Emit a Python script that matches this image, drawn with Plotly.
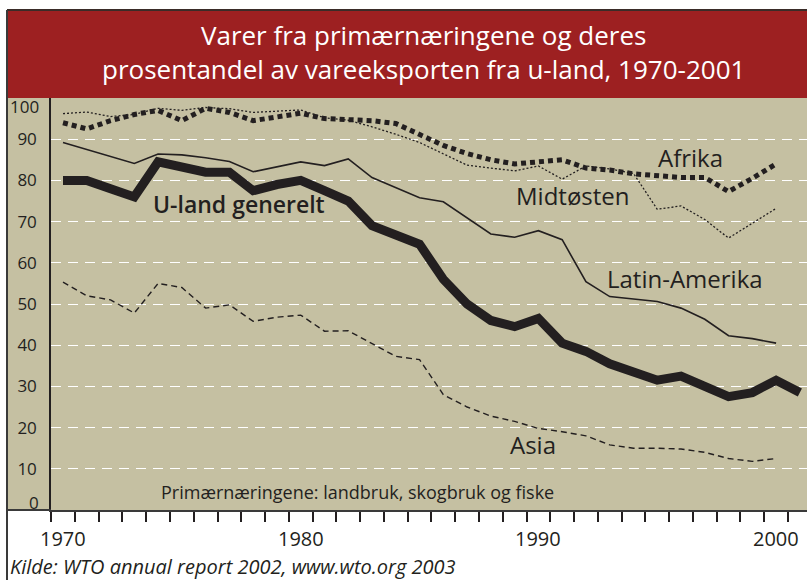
import plotly.graph_objects as go

years = list(range(1970, 2001))
years_uland = list(range(1970, 2002))

u_land = [80, 80, 78, 76, 84.5, 83, 82, 82, 77.5, 79, 80, 77.5, 75, 69, 66.5, 64.5,
          56, 50, 46, 44.5, 46.5, 40.5, 38.5, 35.5, 33.5, 31.5, 32.5, 30, 27.5, 28.5, 31.5, 28.5]
latin_amerika = [89.2, 87.5, 85.8, 84.1, 86.4, 86.2, 85.5, 84.6, 82.1, 83.3, 84.5, 83.6, 85.2, 80.7,
                 78.3, 75.8, 74.8, 70.8, 67, 66.2, 67.8, 65.6, 55.4, 51.8, 51.2, 50.6, 49, 46.3, 42.3, 41.6, 40.5]
afrika = [94, 92.5, 94.5, 96, 97, 94.5, 97.5, 96.5, 94.5, 95.3, 96.3, 95, 94.8, 94.5, 93.8, 91,
          88.5, 86.5, 85, 84, 84.5, 85, 83, 82.5, 81.6, 81, 80.7, 80.7, 77.3, 80.5, 84]
midtosten = [96.2, 96.6, 95.5, 96, 97.5, 97, 97.7, 97.4, 96.5, 96.8, 97.1, 95.2, 94.6, 93, 91.2, 89.2,
             86.5, 83.7, 83, 82.3, 83.5, 80.3, 83.5, 82.8, 81.7, 73, 73.8, 70.5, 66, 69.6, 73.2]
asia = [55.3, 52, 51, 47.8, 55, 54, 49, 49.8, 45.8, 46.8, 47.3, 43.4, 43.5, 40.5, 37.3, 36.5,
        28, 25, 22.8, 21.5, 19.8, 19, 18, 15.8, 15, 15, 14.8, 14, 12.5, 11.8, 12.5]

y_ticks = [10, 20, 30, 40, 50, 60, 70, 80, 90]
x_labels = [1970, 1980, 1990, 2000]
title_lines = ["Varer fra primærnæringene og deres",
               "prosentandel av vareeksporten fra u-land, 1970-2001"]

INK = "#231f20"
TAN = "#c5c0a2"
RED = "#9d2021"
FONT = "Open Sans"

fig = go.Figure()
fig.add_trace(go.Scatter(x=years, y=midtosten, mode="lines",
                         line=dict(color=INK, width=1.3, dash="2px,2px"), name="Midtøsten"))
fig.add_trace(go.Scatter(x=years, y=afrika, mode="lines",
                         line=dict(color=INK, width=5, dash="5px,4px"), name="Afrika"))
fig.add_trace(go.Scatter(x=years, y=latin_amerika, mode="lines",
                         line=dict(color=INK, width=1.6), name="Latin-Amerika"))
fig.add_trace(go.Scatter(x=years, y=asia, mode="lines",
                         line=dict(color=INK, width=1.4, dash="6px,4px"), name="Asia"))
fig.add_trace(go.Scatter(x=years_uland, y=u_land, mode="lines",
                         line=dict(color=INK, width=9), name="U-land generelt"))

# pixel helpers for layout decorations (plot area: x 51..807, y 98..510)
L, R, T, B = 51, 807, 98, 510
def px(xp):
    return (xp - L) / (R - L)
def py(yp):
    return (B - yp) / (B - T)

shapes = [
    dict(type="rect", xref="paper", yref="paper", x0=px(7), x1=1.01, y0=0, y1=1,
         fillcolor=TAN, line=dict(width=0), layer="below"),
    dict(type="rect", xref="paper", yref="paper", x0=px(7), x1=1.01, y0=1, y1=py(10),
         fillcolor=RED, line=dict(width=0), layer="below"),
    dict(type="line", xref="paper", yref="paper", x0=px(7), x1=1.01, y0=py(10), y1=py(10),
         line=dict(color="#3a2c28", width=2)),
    dict(type="line", xref="paper", yref="paper", x0=px(7), x1=px(7), y0=py(580), y1=py(10),
         line=dict(color="#3a3a3a", width=2)),
]

annotations = [
    dict(xref="paper", yref="paper", x=px(423), y=py(52), text="<br>".join(title_lines),
         showarrow=False, font=dict(family=FONT, size=26, color="white"), align="center",
         xanchor="center", yanchor="middle"),
    dict(x=1977.4, y=74.2, text="U-land generelt", showarrow=False,
         font=dict(family=FONT, size=23, color=INK, weight=600), xanchor="center", yanchor="middle"),
    dict(x=1996.38, y=85.6, text="Afrika", showarrow=False,
         font=dict(family=FONT, size=24, color=INK), xanchor="center", yanchor="middle"),
    dict(x=1991.46, y=76.4, text="Midtøsten", showarrow=False,
         font=dict(family=FONT, size=24, color=INK), xanchor="center", yanchor="middle"),
    dict(x=1996.17, y=56.2, text="Latin-Amerika", showarrow=False,
         font=dict(family=FONT, size=24, color=INK), xanchor="center", yanchor="middle"),
    dict(x=1989.77, y=15.8, text="Asia", showarrow=False,
         font=dict(family=FONT, size=24, color=INK), xanchor="center", yanchor="middle"),
    dict(x=1982.39, y=4.3, text="Primærnæringene: landbruk, skogbruk og fiske", showarrow=False,
         font=dict(family=FONT, size=18, color=INK), xanchor="center", yanchor="middle"),
    dict(xref="paper", yref="paper", x=px(8), y=py(566),
         text="<i>Kilde: WTO annual report 2002, www.wto.org 2003</i>", showarrow=False,
         font=dict(family=FONT, size=20, color=INK), xanchor="left", yanchor="middle"),
    dict(xref="paper", yref="paper", x=px(41), y=py(106), text="100", showarrow=False,
         font=dict(family=FONT, size=17, color=INK), xanchor="right", yanchor="middle"),
    dict(xref="paper", yref="paper", x=px(41), y=py(502), text="0", showarrow=False,
         font=dict(family=FONT, size=17, color=INK), xanchor="right", yanchor="middle"),
]
for yr in x_labels:
    annotations.append(dict(x=yr, xref="x", yref="paper", y=py(538), text=str(yr),
                            showarrow=False, font=dict(family=FONT, size=20, color=INK),
                            xanchor="center", yanchor="middle"))

fig.update_layout(
    width=807, height=580,
    margin=dict(l=L, r=807 - R, t=T, b=580 - B, pad=0),
    paper_bgcolor="white", plot_bgcolor=TAN,
    showlegend=False,
    shapes=shapes, annotations=annotations,
    font=dict(family=FONT, color=INK),
)
fig.update_xaxes(
    range=[1969.495, 2001.30], tickmode="linear", tick0=1969.5, dtick=1,
    ticks="outside", ticklen=10, tickwidth=2, tickcolor=INK, showticklabels=False,
    showgrid=False, zeroline=False,
    showline=True, linecolor="#3a3a3a", linewidth=2,
)
fig.update_yaxes(
    range=[0, 100], tickmode="array", tickvals=y_ticks, ticks="",
    showgrid=True, gridcolor="white", gridwidth=1, griddash="10px,7px", zeroline=False,
    showline=True, linecolor=INK, linewidth=1.5,
    tickfont=dict(family=FONT, size=17, color=INK), ticklabelstandoff=9,
)
# extend the bottom axis line to the left frame edge
fig.add_shape(type="line", xref="paper", yref="paper", x0=px(7), x1=0, y0=0, y1=0,
              line=dict(color="#3a3a3a", width=2))

fig.write_html(
    "out.html",
    config={"displayModeBar": False},
    post_script="document.body.style.margin='0';document.body.style.padding='0';"
                "document.body.style.overflow='hidden';",
)
